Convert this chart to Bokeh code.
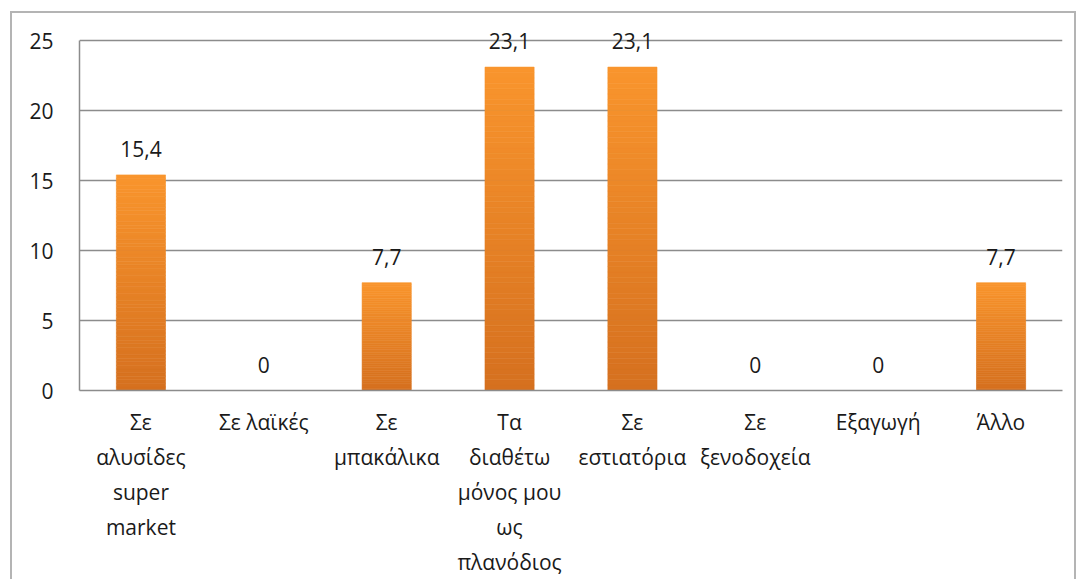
from bokeh.plotting import figure
from bokeh.models import ColumnDataSource, FixedTicker, LabelSet
from bokeh.core.properties import value
from bokeh.embed import file_html
from bokeh.resources import INLINE

categories = ["Σε\nαλυσίδες\nsuper\nmarket", "Σε λαϊκές", "Σε\nμπακάλικα",
              "Τα\nδιαθέτω\nμόνος μου\nως\nπλανόδιος", "Σε\nεστιατόρια",
              "Σε\nξενοδοχεία", "Εξαγωγή", "Άλλο"]
values = [15.4, 0, 7.7, 23.1, 23.1, 0, 0, 7.7]
value_labels = ["15,4", "0", "7,7", "23,1", "23,1", "0", "0", "7,7"]
y_ticks = [0, 5, 10, 15, 20, 25]

FONT = "Open Sans"
GRID = "#8c8c8c"
TEXT = "#1a1a1a"

p = figure(x_range=categories, y_range=(0, 26), width=1062, height=566,
           output_backend="svg", toolbar_location=None,
           min_border_left=67, min_border_right=12, min_border_top=13, min_border_bottom=189)
p.styles = {"margin-left": "12px", "margin-top": "13px", "outline": "2px solid #b4b4b4"}
p.outline_line_color = None
p.xgrid.grid_line_color = None
p.ygrid.ticker = FixedTicker(ticks=y_ticks)
p.ygrid.grid_line_color = GRID
p.ygrid.grid_line_width = 1.5

# gradient bars: slices from darker bottom to lighter top
N = 60
bottom_rgb = (0xd5, 0x70, 0x1f)
top_rgb = (0xf9, 0x95, 0x2d)
xs, bots, tops, cols = [], [], [], []
for c, v in zip(categories, values):
    for k in range(N):
        t = (k + 0.5) / N
        rgb = tuple(int(round(b + (tp - b) * t)) for b, tp in zip(bottom_rgb, top_rgb))
        xs.append(c)
        bots.append(v * k / N)
        tops.append(v * (k + 1) / N)
        cols.append("#%02x%02x%02x" % rgb)
p.vbar(x=xs, bottom=bots, top=tops, width=0.4, fill_color=cols, line_color=cols, line_width=0.6)

src = ColumnDataSource(dict(x=categories, y=values, t=value_labels))
labels = LabelSet(x="x", y="y", text="t", source=src, text_font=value(FONT),
                  text_font_size="21px", text_color=TEXT, text_align="center",
                  text_baseline="middle", y_offset=26)
p.add_layout(labels)

yax = p.yaxis[0]
yax.ticker = FixedTicker(ticks=y_ticks)
yax.bounds = (0, 25)
yax.axis_line_color = GRID
yax.axis_line_width = 1.5
yax.major_tick_line_color = None
yax.major_tick_out = 0
yax.major_tick_in = 0
yax.minor_tick_line_color = None
yax.major_label_standoff = 26
yax.major_label_text_font = FONT
yax.major_label_text_font_size = "21px"
yax.major_label_text_color = TEXT

xax = p.xaxis[0]
xax.axis_line_color = GRID
xax.axis_line_width = 1.5
xax.major_tick_line_color = None
xax.major_tick_out = 0
xax.major_tick_in = 0
xax.minor_tick_line_color = None
xax.major_label_standoff = 17
xax.major_label_text_font = FONT
xax.major_label_text_font_size = "21px"
xax.major_label_text_color = TEXT
xax.major_label_text_line_height = 1.25

open("out.html", "w").write(file_html(p, INLINE))
